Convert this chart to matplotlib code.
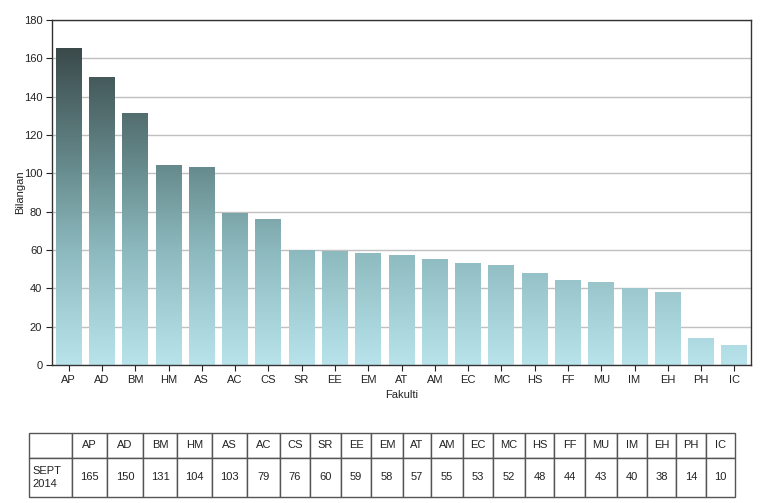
import numpy as np
import matplotlib
matplotlib.use("Agg")
import matplotlib.pyplot as plt
from matplotlib.colors import LinearSegmentedColormap, Normalize

fakulti = ["AP", "AD", "BM", "HM", "AS", "AC", "CS", "SR", "EE", "EM", "AT",
           "AM", "EC", "MC", "HS", "FF", "MU", "IM", "EH", "PH", "IC"]
bilangan = [165, 150, 131, 104, 103, 79, 76, 60, 59, 58, 57,
            55, 53, 52, 48, 44, 43, 40, 38, 14, 10]
row_label = "SEPT\n2014"

plt.rcParams['font.family'] = ['Liberation Sans', 'DejaVu Sans']

W, H = 778, 503
fig = plt.figure(figsize=(W / 100, H / 100), dpi=100)
fig.patch.set_facecolor("white")

# axes box in pixels: x 52-751, y 20-365
ax = fig.add_axes([52 / W, (H - 365) / H, (751 - 52) / W, (365 - 20) / H])

cmap = LinearSegmentedColormap.from_list(
    "teal", [(0.0, "#b8e3eb"), (60 / 180, "#8cb9be"), (104 / 180, "#668a8c"),
             (165 / 180, "#3b4a4b"), (1.0, "#344242")])
norm = Normalize(0, 180)

bw = 0.78
for i, v in enumerate(bilangan):
    grad = np.linspace(0, v, 256).reshape(-1, 1)
    ax.imshow(grad, extent=(i - bw / 2, i + bw / 2, 0, v), origin="lower",
              cmap=cmap, norm=norm, aspect="auto", zorder=2,
              interpolation="bilinear")

ax.set_xlim(-0.5, len(fakulti) - 0.5)
ax.set_ylim(0, 180)
ax.set_yticks(range(0, 181, 20))
ax.set_xticks(range(len(fakulti)))
ax.set_xticklabels(fakulti)
ax.tick_params(labelsize=8, colors="#222222", length=4, width=0.8, pad=3)
for s in ax.spines.values():
    s.set_color("#333333")
    s.set_linewidth(1)
ax.yaxis.grid(True, color="#c0c0c0", linewidth=1, zorder=0)
ax.set_axisbelow(True)
ax.set_xlabel("Fakulti", fontsize=8, color="#222222", labelpad=4)
ax.set_ylabel("Bilangan", fontsize=8, color="#222222", labelpad=-1)

# table below
edges = [29, 72, 107, 143, 177, 212, 247, 280, 310, 341, 371, 403, 431,
         463, 493, 525, 554, 585, 617, 647, 676, 706, 735]
tax = fig.add_axes([29 / W, (H - 497) / H, (735 - 29) / W, 64 / H])
tax.axis("off")
cells = [[""] + fakulti, [row_label] + [str(v) for v in bilangan]]
tbl = tax.table(cellText=cells, bbox=[0, 0, 1, 1], cellLoc="center")
tbl.auto_set_font_size(False)
tbl.set_fontsize(8)
widths = np.diff(edges) / (edges[-1] - edges[0])
for (r, c), cell in tbl.get_celld().items():
    cell.set_width(widths[c])
    cell.set_height(25 / 64 if r == 0 else 39 / 64)
    cell.set_edgecolor("#555555")
    cell.set_linewidth(1)
    cell.get_text().set_color("#222222")
    if r == 1 and c == 0:
        cell.get_text().set_ha("left")
        cell.get_text().set_linespacing(1.4)
        cell._loc = "left"
        cell.PAD = 0.08

fig.savefig("out.png", dpi=100, facecolor="white")
